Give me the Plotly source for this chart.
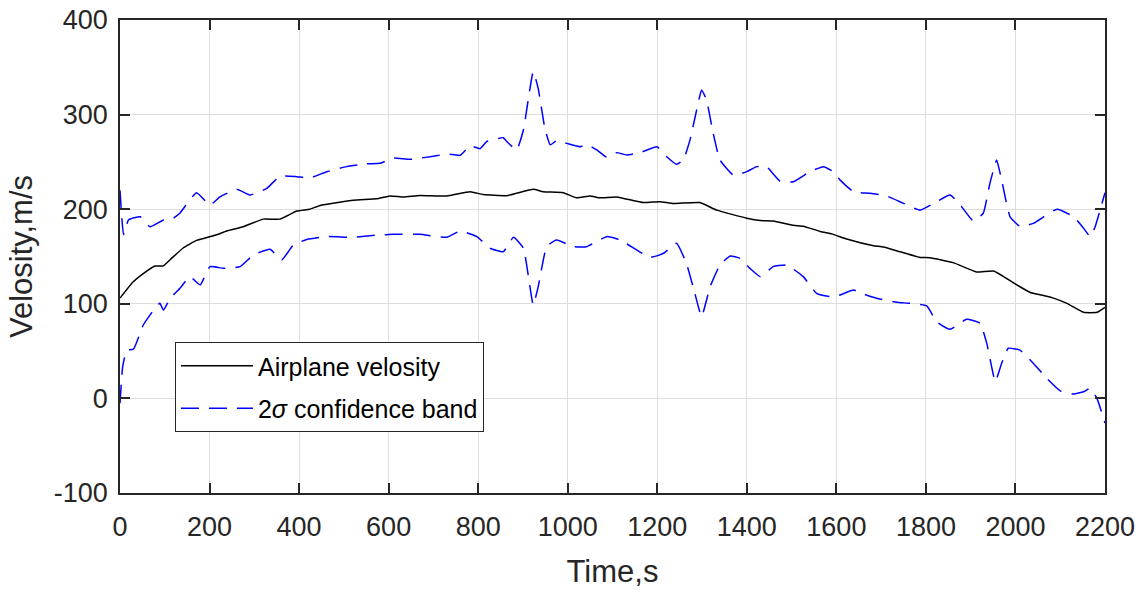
import plotly.graph_objects as go

# Airplane velocity
t_velocity = [0, 29, 52, 78, 96, 115, 141, 171, 216, 238, 275, 320, 357, 395, 424, 447, 521, 573, 603, 633,
              670, 730, 782, 811, 864, 923, 945, 990, 1020, 1050, 1072, 1109, 1169, 1206, 1236, 1295, 1333,
              1400, 1430, 1459, 1504, 1526, 1564, 1593, 1623, 1683, 1705, 1742, 1787, 1809, 1861, 1913, 1951,
              2003, 2033, 2070, 2085, 2115, 2152, 2182, 2200]
velocity = [106, 123, 132, 140, 140, 148, 159, 167, 173, 177, 181.5, 189.5, 189.5, 198, 200, 204, 209.5, 211,
            214, 213, 214.5, 214, 218.5, 215.5, 214.3, 221, 218.5, 217.5, 212, 214, 212, 213, 207, 208, 206,
            207, 199, 190.5, 188, 187.5, 183, 182, 176.5, 173.4, 168.5, 161.4, 160, 155, 149, 148.7, 143.5,
            133.6, 134.7, 120, 112, 108, 106, 100.5, 91, 91, 96.3]

# Upper 2-sigma bound
t_upper = [0, 8, 19, 45, 67, 97, 119, 134, 171, 201, 223, 261, 290, 328, 357, 395, 424, 462, 506, 551, 581,
           610, 648, 700, 730, 760, 782, 804, 819, 856, 864, 886, 901, 923, 934, 949, 961, 975, 998, 1028,
           1042, 1065, 1087, 1109, 1132, 1162, 1199, 1221, 1243, 1258, 1273, 1288, 1299, 1310, 1325, 1340,
           1370, 1400, 1422, 1444, 1474, 1504, 1541, 1571, 1593, 1608, 1638, 1675, 1712, 1750, 1787, 1817,
           1854, 1876, 1906, 1928, 1943, 1958, 1969, 1988, 2010, 2040, 2063, 2093, 2130, 2152, 2167, 2178,
           2189, 2200]
upper = [220, 173, 188.6, 192, 181.5, 188.6, 190.5, 196, 217.5, 204.4, 213, 221, 215, 222, 235, 234.4, 233,
         239.6, 245, 248, 248.5, 254, 252.7, 256, 258.3, 257, 267, 264, 271.4, 275.6, 271.4, 262.6, 283.7,
         345.4, 327.8, 285.5, 268, 272.4, 269.6, 266, 268.6, 262.6, 255, 259.8, 257.3, 259.8, 266, 255.5,
         247.5, 252, 273, 305, 326, 315.4, 280, 252, 236, 239.7, 245, 245, 229.8, 229, 239.7, 245, 239.7,
         231, 218.5, 216.8, 214, 206.2, 199, 206, 215, 205, 187.5, 195.7, 227.4, 252, 231, 192, 182, 185,
         192, 200, 192, 180, 171, 181.5, 199, 217.5]

# Lower 2-sigma bound
t_lower = [0, 6, 15, 30, 52, 75, 89, 97, 112, 134, 156, 179, 201, 231, 268, 298, 335, 361, 387, 417, 462,
           521, 573, 610, 670, 730, 760, 797, 827, 856, 879, 901, 923, 934, 953, 975, 1013, 1042, 1087, 1117,
           1154, 1184, 1214, 1243, 1265, 1284, 1299, 1318, 1340, 1363, 1385, 1407, 1430, 1459, 1489, 1526,
           1556, 1586, 1608, 1638, 1660, 1690, 1735, 1764, 1802, 1824, 1854, 1891, 1921, 1936, 1955, 1969,
           1984, 2010, 2033, 2070, 2100, 2130, 2152, 2167, 2182, 2200]
lower = [-5, 33.5, 51, 52, 77.6, 93.4, 100.5, 93.4, 105.8, 116.4, 128.7, 120, 139.3, 137.5, 139.3, 151.6,
         157.6, 146.3, 162, 168, 171, 170.3, 172.7, 173.4, 173.4, 170.3, 177, 171, 158.7, 155, 170.3, 158.7,
         98.7, 118, 160.4, 167.4, 160.4, 160.4, 171, 167.4, 156.9, 149, 153.4, 164, 142.8, 111, 86.4, 118,
         141, 150.5, 148, 137.5, 128.7, 139.3, 141, 128.7, 111, 107.6, 109.3, 114.6, 110.4, 105.8, 101.6,
         100.5, 97.7, 81, 73, 83.6, 79.4, 58.2, 17.6, 37, 53, 51, 40.6, 21.2, 8, 4.6, 7, 10.6, 0, -26]

x_ticks = list(range(0, 2201, 200))
y_ticks = list(range(-100, 401, 100))

AX = '#262626'
fig = go.Figure()
fig.add_trace(go.Scatter(x=t_velocity, y=velocity, mode='lines', name='Airplane velosity',
                         line=dict(color='black', width=1.5, shape='spline', smoothing=0.4)))
fig.add_trace(go.Scatter(x=t_upper, y=upper, mode='lines', name='2<i>σ</i> confidence band',
                         legendgroup='band',
                         line=dict(color='#0000ff', width=1.5, dash='18px,10px', shape='spline', smoothing=0.4)))
fig.add_trace(go.Scatter(x=t_lower, y=lower, mode='lines', name='2<i>σ</i> confidence band',
                         legendgroup='band', showlegend=False,
                         line=dict(color='#0000ff', width=1.5, dash='18px,10px', shape='spline', smoothing=0.4)))

axis_common = dict(showline=True, linecolor=AX, linewidth=1.8, mirror='ticks', ticks='inside',
                   ticklen=10, tickcolor=AX, tickwidth=1.5, showgrid=True, gridcolor='#dedede',
                   gridwidth=1, zeroline=False, automargin=False, tickfont=dict(size=27, color=AX))

fig.update_layout(
    width=1146, height=590,
    margin=dict(l=120, r=41, t=20, b=97),
    plot_bgcolor='white', paper_bgcolor='white',
    font=dict(family='Liberation Sans, Arial, sans-serif', color=AX),
    xaxis=dict(range=[0, 2200], tickvals=x_ticks, ticktext=[str(v) for v in x_ticks],
               ticklabelstandoff=9,
               title=dict(text='Time,s', font=dict(size=31, color=AX), standoff=19), **axis_common),
    yaxis=dict(range=[-100, 400], tickvals=y_ticks, ticktext=[str(v) for v in y_ticks],
               ticklabelstandoff=5,
               title=dict(text='Velosity,m/s', font=dict(size=31, color=AX), standoff=12), **axis_common),
    legend=dict(x=0.0558, y=0.319, xanchor='left', yanchor='top', bgcolor='white',
                bordercolor=AX, borderwidth=1, font=dict(size=25, color='black'),
                itemwidth=72, tracegroupgap=7),
    showlegend=True,
)

fig.write_html('out.html')
